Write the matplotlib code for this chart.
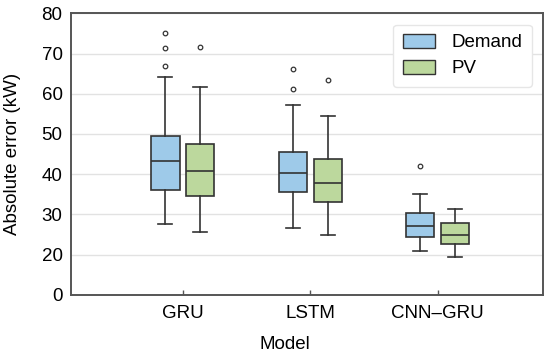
import matplotlib
matplotlib.use("Agg")
from matplotlib import pyplot as plt
from matplotlib.patches import Patch

plt.rcParams['font.family'] = ['Liberation Sans', 'DejaVu Sans']

models = ['GRU', 'LSTM', 'CNN\u2013GRU']
series = ['Demand', 'PV']
colors = ['#9ecae9', '#bcd89d']

# box stats: whislo, q1, median, q3, whishi, outliers
demand_low = [27.5, 26.6, 21.0]
demand_q1 = [36.1, 35.5, 24.5]
demand_med = [43.3, 40.2, 27.1]
demand_q3 = [49.6, 45.6, 30.4]
demand_high = [64.1, 57.1, 35.1]
demand_out = [[66.9, 71.3, 75.2], [61.1, 66.1], [42.0]]

pv_low = [25.7, 24.9, 19.5]
pv_q1 = [34.6, 33.2, 22.7]
pv_med = [40.8, 37.8, 24.8]
pv_q3 = [47.4, 43.7, 27.8]
pv_high = [61.6, 54.5, 31.4]
pv_out = [[71.7], [63.4], []]

yticks = [10, 20, 30, 40, 50, 60, 70, 80]
ytick_labels = ['0', '20', '30', '40', '50', '60', '70', '80']

def make_stats(lo, q1, med, q3, hi, out):
    return [dict(whislo=lo[i], q1=q1[i], med=med[i], q3=q3[i], whishi=hi[i], fliers=out[i])
            for i in range(len(lo))]

fig = plt.figure(figsize=(5.5, 3.6), dpi=100)
ax = fig.add_axes([0.129, 0.181, 0.858, 0.782])

edge = '#333333'
all_stats = [make_stats(demand_low, demand_q1, demand_med, demand_q3, demand_high, demand_out),
             make_stats(pv_low, pv_q1, pv_med, pv_q3, pv_high, pv_out)]
offsets = [-0.137, 0.137]
for stats, off, col in zip(all_stats, offsets, colors):
    pos = [i + off for i in range(len(models))]
    ax.bxp(stats, positions=pos, widths=0.222, patch_artist=True, capwidths=0.11,
           boxprops=dict(facecolor=col, edgecolor=edge, linewidth=1.2),
           medianprops=dict(color=edge, linewidth=1.2),
           whiskerprops=dict(color=edge, linewidth=1.2),
           capprops=dict(color=edge, linewidth=1.2),
           flierprops=dict(marker='o', markersize=3.3, markerfacecolor='none',
                           markeredgecolor=edge, markeredgewidth=0.9))

ax.set_xlim(-0.878, 2.824)
ax.set_ylim(10, 80)
ax.set_xticks(range(len(models)))
ax.set_xticklabels(models, fontsize=13.5)
ax.set_yticks(yticks)
ax.set_yticklabels(ytick_labels, fontsize=13.5)
ax.tick_params(axis='y', length=0, pad=6)
ax.tick_params(axis='x', direction='in', length=3.5, width=1, color='#555555', pad=7)
ax.grid(axis='y', color='#e2e2e2', linewidth=1)
ax.set_axisbelow(True)
for s in ax.spines.values():
    s.set_color('#555555')
    s.set_linewidth(1.4)

ax.set_ylabel('Absolute error (kW)', fontsize=13.5, labelpad=8)
ax.yaxis.set_label_coords(-0.105, 0.5)
ax.set_xlabel('Model', fontsize=13.5)
ax.xaxis.set_label_coords(0.454, -0.145)

handles = [Patch(facecolor=c, edgecolor=edge, linewidth=1.0) for c in colors]
leg = ax.legend(handles, series, loc='upper right', fontsize=13.5, handlelength=1.75,
                handleheight=0.75, handletextpad=0.85, borderaxespad=0.6, borderpad=0.5,
                framealpha=1, edgecolor='#e6e6e6', fancybox=True, labelspacing=0.45)

fig.savefig('out.png', dpi=100)
